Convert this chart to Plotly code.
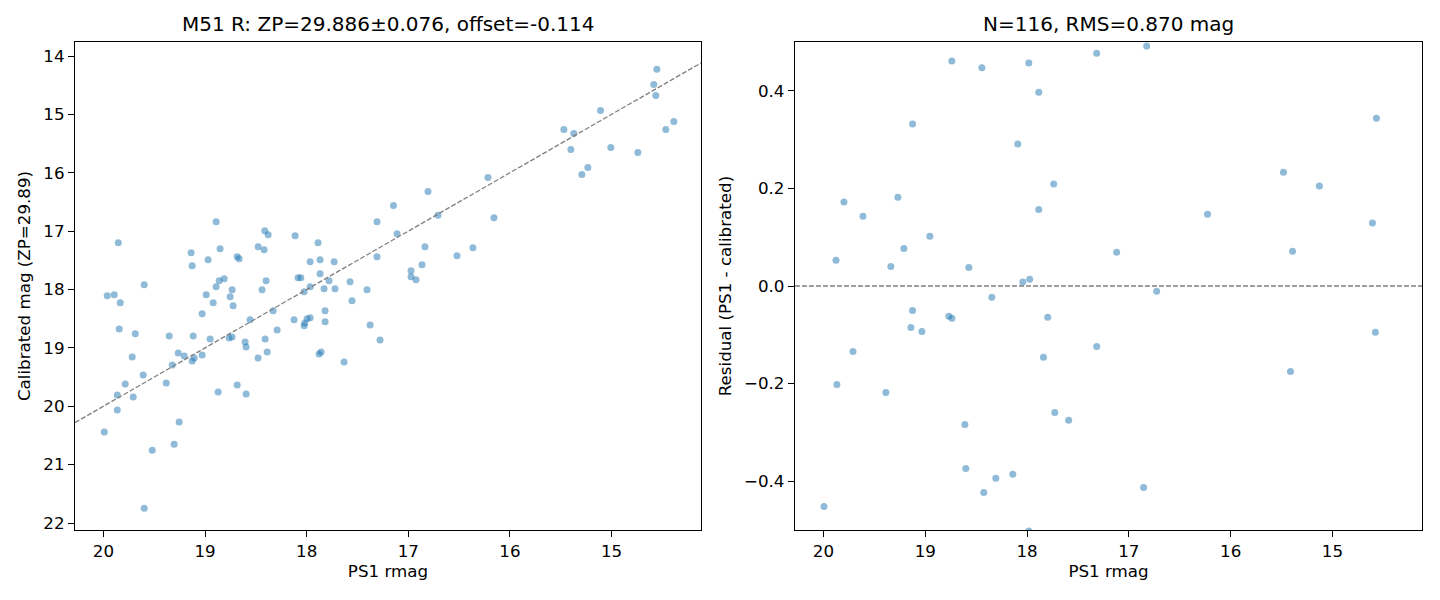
import plotly.graph_objects as go
from plotly.subplots import make_subplots

# left panel: PS1 rmag vs calibrated mag
ps1_mag = [14.554, 14.584, 14.564, 14.387, 14.466, 15.108, 15.469, 15.371, 15.400, 15.007,
           14.741, 15.233, 15.292, 16.216, 16.806, 17.146, 16.708, 16.157, 17.308, 17.111,
           17.888, 16.836, 16.364, 16.521, 17.308, 17.966, 17.868, 17.730, 16.865, 16.973,
           16.973, 16.924, 17.868, 17.780, 17.573, 18.058, 18.025, 17.966, 17.829, 17.721,
           17.406, 17.554, 17.819, 17.819, 17.996, 17.966, 18.025, 18.019, 17.376, 17.278,
           17.878, 17.858, 17.632, 18.891, 19.854, 18.412, 18.379, 18.114, 19.137, 18.852,
           18.478, 18.419, 18.970, 18.684, 18.665, 19.127, 19.599, 19.963, 19.894, 19.835,
           18.861, 18.812, 18.891, 18.734, 18.753, 18.989, 18.920, 18.724, 18.399, 18.439,
           18.085, 19.029, 18.557, 18.330, 18.124, 19.845, 19.687, 19.353, 19.117, 18.950,
           18.763, 18.734, 18.606, 18.596, 18.409, 18.291, 19.717, 19.264, 19.205, 19.107,
           19.029, 18.478, 18.389, 19.127, 19.323, 19.609, 19.786, 19.382, 19.864, 19.707,
           19.864, 18.871, 18.684, 18.596, 19.992, 19.255, 19.520, 19.304, 19.599]
cal_mag = [14.228, 14.486, 14.675, 15.121, 15.258, 14.932, 15.258, 15.327, 15.602, 15.567,
           15.653, 15.911, 16.031, 16.082, 16.323, 16.563, 16.729, 16.769, 16.838, 17.044,
           17.198, 17.267, 17.284, 17.421, 17.438, 17.524, 17.490, 17.524, 17.576, 17.679,
           17.782, 17.833, 17.730, 17.851, 17.868, 17.799, 18.039, 17.954, 17.988, 17.988,
           18.005, 18.194, 18.366, 18.554, 18.503, 18.486, 18.623, 18.572, 18.606, 18.863,
           19.104, 19.069, 19.241, 16.838, 17.198, 16.992, 17.061, 17.078, 17.370, 17.301,
           17.267, 17.318, 17.490, 17.438, 17.473, 17.593, 17.919, 18.108, 18.091, 18.228,
           17.851, 17.816, 17.954, 18.005, 18.125, 18.091, 18.228, 18.280, 17.851, 18.005,
           17.799, 18.417, 18.520, 18.366, 18.520, 18.675, 18.760, 18.795, 18.795, 18.846,
           18.829, 18.812, 18.898, 18.983, 18.846, 18.692, 19.155, 19.087, 19.138, 19.172,
           19.121, 19.172, 19.069, 19.224, 19.293, 19.464, 19.619, 19.601, 19.808, 19.842,
           20.065, 19.756, 19.636, 19.790, 20.443, 20.271, 20.752, 20.649, 21.747]

# right panel: residuals (only the ones inside +-0.5 show up)
res_mag = [17.316, 18.739, 18.444, 17.983, 17.885, 19.125, 18.091, 17.738, 19.799, 19.269,
           19.612, 17.885, 18.955, 19.210, 19.877, 19.338, 18.572, 17.120, 17.974, 18.042,
           18.346, 19.125, 18.768, 18.739, 19.141, 19.033, 17.797, 19.710, 17.839, 17.316,
           19.868, 19.387, 17.728, 17.591, 18.611, 18.602, 18.140, 18.307, 18.425, 19.995,
           17.983, 16.825, 14.568, 15.481, 15.128, 16.227, 14.607, 15.392, 16.727, 14.578,
           15.412, 16.855]
residual = [0.477, 0.461, 0.447, 0.457, 0.397, 0.332, 0.291, 0.209, 0.172, 0.182,
            0.143, 0.157, 0.102, 0.077, 0.053, 0.040, 0.038, 0.069, 0.014, 0.008,
            -0.023, -0.050, -0.062, -0.066, -0.085, -0.093, -0.064, -0.134, -0.146, -0.124,
            -0.202, -0.218, -0.259, -0.275, -0.284, -0.374, -0.386, -0.394, -0.423, -0.452,
            -0.502, 0.492, 0.344, 0.233, 0.205, 0.147, 0.129, 0.071, -0.011, -0.095,
            -0.175, -0.413]

title_left = "M51 R: ZP=29.886±0.076, offset=-0.114"
title_right = "N=116, RMS=0.870 mag"
zp_label = "Calibrated mag (ZP=29.89)"

x_rng = [20.28, 14.12]
y_rng_left = [22.12, 13.76]
y_rng_right = [-0.5, 0.5]

pt_color = "rgba(31,119,180,0.5)"
font = "DejaVu Sans"
dash = "5px,2px"

fig = make_subplots(rows=1, cols=2)

fig.add_trace(go.Scatter(x=ps1_mag, y=cal_mag, mode="markers",
                         marker=dict(size=7, color=pt_color, line=dict(width=0)),
                         showlegend=False), row=1, col=1)
# 1:1 line across the whole x range
fig.add_trace(go.Scatter(x=x_rng, y=x_rng, mode="lines",
                         line=dict(color="gray", width=1.3, dash=dash),
                         showlegend=False, hoverinfo="skip"), row=1, col=1)

fig.add_trace(go.Scatter(x=res_mag, y=residual, mode="markers",
                         marker=dict(size=7, color=pt_color, line=dict(width=0)),
                         showlegend=False), row=1, col=2)
fig.add_hline(y=0, line_dash=dash, line_color="gray", line_width=1.3, row=1, col=2)

axis_style = dict(showline=True, linecolor="black", linewidth=1.3, mirror=True,
                  ticks="outside", ticklen=6, tickwidth=1.3, tickcolor="black",
                  showgrid=False, zeroline=False, tickfont=dict(size=16.7, color="black"))

fig.update_xaxes(axis_style)
fig.update_yaxes(axis_style)

fig.update_xaxes(domain=[0, 0.4647], range=x_rng, dtick=1,
                 title=dict(text="PS1 rmag", font=dict(size=16.7), standoff=4), row=1, col=1)
fig.update_xaxes(domain=[0.5345, 1.0], range=x_rng, dtick=1,
                 title=dict(text="PS1 rmag", font=dict(size=16.7), standoff=4), row=1, col=2)
fig.update_yaxes(range=y_rng_left, dtick=1,
                 title=dict(text=zp_label, font=dict(size=16.7), standoff=8), row=1, col=1)
fig.update_yaxes(range=y_rng_right, tickvals=[-0.4, -0.2, 0.0, 0.2, 0.4], tickformat=".1f",
                 title=dict(text="Residual (PS1 - calibrated)", font=dict(size=16.7), standoff=8),
                 row=1, col=2)

for xc, txt in [(0.4647 / 2, title_left), ((0.5345 + 1.0) / 2, title_right)]:
    fig.add_annotation(x=xc, y=1.0, xref="paper", yref="paper", text=txt,
                       showarrow=False, xanchor="center", yanchor="bottom", yshift=4,
                       font=dict(size=20, color="black"))

# page body adds 8px, so figure is a bit smaller than the window
fig.update_layout(width=1432, height=592, plot_bgcolor="white", paper_bgcolor="white",
                  margin=dict(l=67, r=18, t=34, b=70),
                  font=dict(family=font, color="black"))

fig.write_html("out.html")
